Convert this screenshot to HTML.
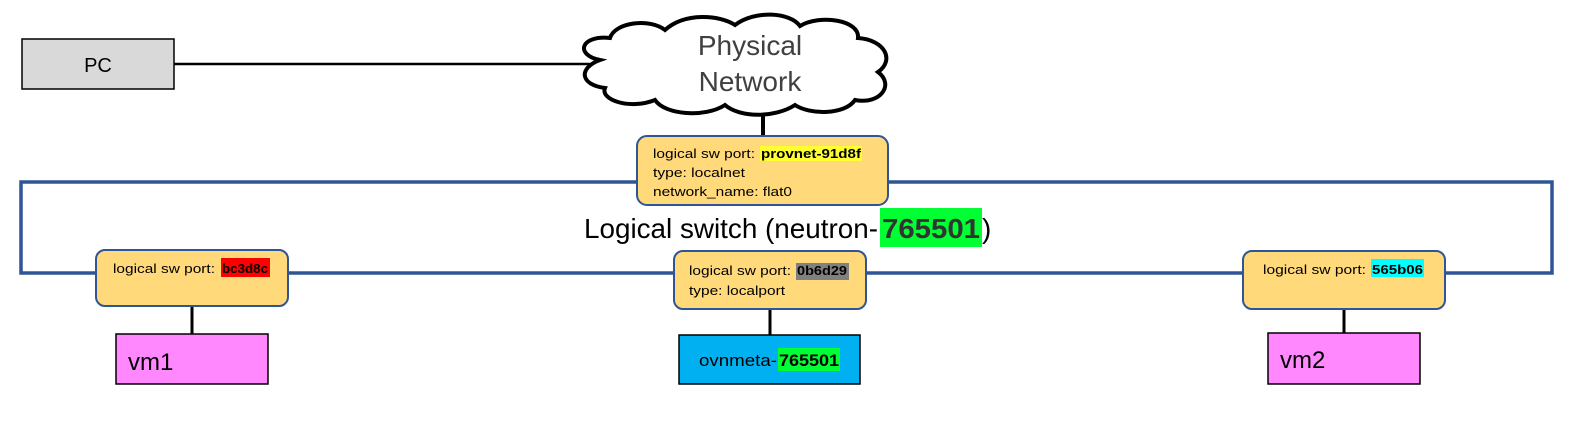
<!DOCTYPE html>
<html><head><meta charset="utf-8"><style>
html,body{margin:0;padding:0;background:#fff;}
svg{display:block;}
text{font-family:"Liberation Sans",sans-serif;}
</style></head><body>
<svg width="1595" height="424" viewBox="0 0 1595 424" xmlns="http://www.w3.org/2000/svg">
<rect x="21" y="182" width="1531" height="91" fill="none" stroke="#2f5597" stroke-width="3.5"/>
<line x1="174" y1="64" x2="590" y2="64" stroke="#000" stroke-width="2.5"/>
<rect x="22" y="39" width="152" height="50" fill="#d9d9d9" stroke="#000" stroke-width="1.5"/>
<text x="98" y="72" font-size="20" text-anchor="middle">PC</text>
<line x1="763" y1="105" x2="763" y2="137" stroke="#000" stroke-width="4"/>
<path d="M600,60 C575,55 580,35 610,38 C615,22 650,18 665,30 C685,12 720,15 735,25 C755,10 790,12 800,26 C820,14 860,20 858,38 C885,40 895,60 878,72 C895,85 880,105 855,100 C845,115 810,115 795,105 C775,118 740,118 725,105 C705,118 665,115 655,100 C630,110 600,100 605,88 C580,85 578,68 600,60 Z" fill="#fff" stroke="#000" stroke-width="4"/>
<text x="750" y="55" font-size="28" fill="#404040" text-anchor="middle">Physical</text>
<text x="750" y="91" font-size="28" fill="#404040" text-anchor="middle">Network</text>
<!-- top port -->
<rect x="637" y="136" width="251" height="69" rx="10" fill="#ffd97a" stroke="#2f5597" stroke-width="2"/>
<rect x="760" y="146" width="102" height="15" fill="#ffff33"/>
<text x="653" y="158" font-size="13" textLength="102" lengthAdjust="spacingAndGlyphs">logical sw port:</text>
<text x="761" y="158" font-size="13" font-weight="bold" textLength="100" lengthAdjust="spacingAndGlyphs">provnet-91d8f</text>
<text x="653" y="177" font-size="13" textLength="92" lengthAdjust="spacingAndGlyphs">type: localnet</text>
<text x="653" y="196" font-size="13" textLength="139" lengthAdjust="spacingAndGlyphs">network_name: flat0</text>
<!-- switch label -->
<rect x="880" y="208" width="102" height="39" fill="#00ff33"/>
<text x="584" y="238" font-size="28" textLength="294" lengthAdjust="spacingAndGlyphs">Logical switch (neutron-</text>
<text x="882" y="238" font-size="28" font-weight="bold" fill="#333" textLength="98" lengthAdjust="spacingAndGlyphs">765501</text>
<text x="982" y="238" font-size="28">)</text>
<!-- vm1 -->
<line x1="192" y1="306" x2="192" y2="334" stroke="#000" stroke-width="3"/>
<rect x="96" y="250" width="192" height="56" rx="9" fill="#ffd97a" stroke="#2f5597" stroke-width="2"/>
<rect x="221" y="258" width="49" height="19" fill="#ff0000"/>
<text x="113" y="273" font-size="13" textLength="102" lengthAdjust="spacingAndGlyphs">logical sw port:</text>
<text x="222" y="273" font-size="13" font-weight="bold" textLength="46" lengthAdjust="spacingAndGlyphs">bc3d8c</text>
<rect x="116" y="334" width="152" height="50" fill="#ff88ff" stroke="#000" stroke-width="1.5"/>
<text x="128" y="370" font-size="24">vm1</text>
<!-- middle -->
<line x1="770" y1="309" x2="770" y2="335" stroke="#000" stroke-width="3"/>
<rect x="674" y="251" width="192" height="58" rx="9" fill="#ffd97a" stroke="#2f5597" stroke-width="2"/>
<rect x="796" y="263" width="53" height="17" fill="#808080"/>
<text x="689" y="275" font-size="13" textLength="102" lengthAdjust="spacingAndGlyphs">logical sw port:</text>
<text x="797" y="275" font-size="13" font-weight="bold" textLength="50" lengthAdjust="spacingAndGlyphs">0b6d29</text>
<text x="689" y="295" font-size="13" textLength="96" lengthAdjust="spacingAndGlyphs">type: localport</text>
<rect x="679" y="335" width="181" height="49" fill="#00b0f0" stroke="#000" stroke-width="1.5"/>
<rect x="778" y="348" width="62" height="23" fill="#00ff33"/>
<text x="699" y="366" font-size="17" textLength="78" lengthAdjust="spacingAndGlyphs">ovnmeta-</text>
<text x="779" y="366" font-size="17" font-weight="bold" textLength="60" lengthAdjust="spacingAndGlyphs">765501</text>
<!-- vm2 -->
<line x1="1344" y1="309" x2="1344" y2="333" stroke="#000" stroke-width="3"/>
<rect x="1243" y="251" width="202" height="58" rx="9" fill="#ffd97a" stroke="#2f5597" stroke-width="2"/>
<rect x="1371" y="259" width="53" height="18" fill="#00ffff"/>
<text x="1263" y="274" font-size="13" textLength="103" lengthAdjust="spacingAndGlyphs">logical sw port:</text>
<text x="1372" y="274" font-size="13" font-weight="bold" textLength="51" lengthAdjust="spacingAndGlyphs">565b06</text>
<rect x="1268" y="333" width="152" height="51" fill="#ff88ff" stroke="#000" stroke-width="1.5"/>
<text x="1280" y="368" font-size="24">vm2</text>
</svg>
</body></html>
